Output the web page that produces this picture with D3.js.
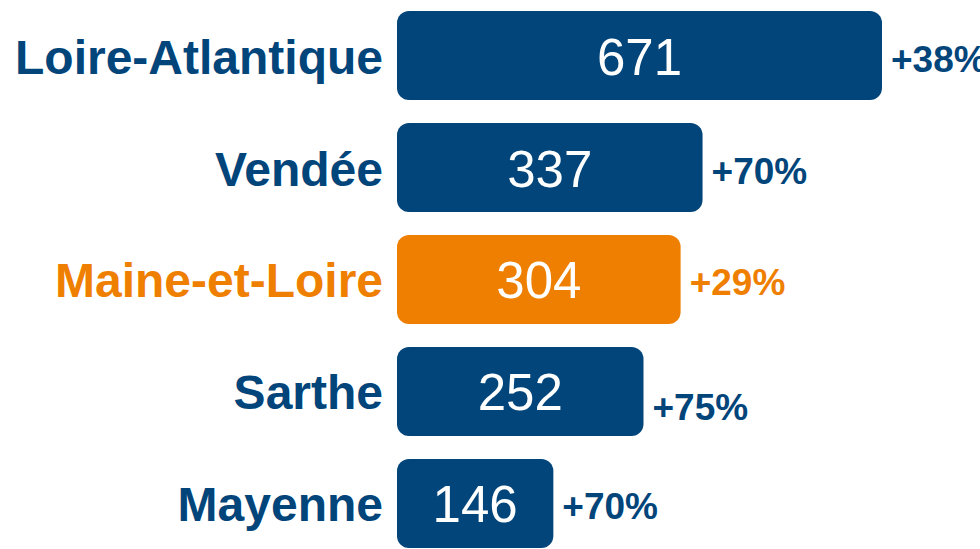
<!DOCTYPE html>
<html lang="fr">
<head>
  <meta charset="UTF-8">
  <title>departements</title>
  <script src="https://d3js.org/d3.v7.min.js" charset="utf-8"></script>
  <style>
    body { margin: 0; background: #fff; }
    text { font-family: "Liberation Sans", Arial, sans-serif; }
  </style>
</head>
<body>
<script>
  // data
  var departements = ['Loire-Atlantique', 'Vendée', 'Maine-et-Loire', 'Sarthe', 'Mayenne']
  var valeurs = [671, 337, 304, 252, 146]
  var evolutions = ['+38%', '+70%', '+29%', '+75%', '+70%']
  var highlight = 'Maine-et-Loire'

  var navy = '#02457a'
  var orange = '#ef7f00'
  var width = 980, height = 549
  var barLeft = 397

  var svg = d3.select('body').append('svg').attr('width', width).attr('height', height)

  var y = d3.scaleBand().domain(departements).range([11, 548]).paddingInner(0.205).paddingOuter(0)
  // the original bars are not proportional; a sqrt scale with offset follows them best
  var w = d3.scaleSqrt().domain([0, d3.max(valeurs)]).range([-131, 485])

  var rows = departements.map(function(d, i) {
    return { name: d, value: valeurs[i], evo: evolutions[i] }
  })
  function color(d) { return d.name === highlight ? orange : navy }

  // small hand nudges seen on the original
  var evoNudge = { 'Sarthe': 13 }

  var g = svg.selectAll('g.row').data(rows).enter().append('g').attr('class', 'row')
    .attr('transform', function(d) { return 'translate(0,' + y(d.name) + ')' })

  g.append('rect')
    .attr('x', barLeft)
    .attr('width', function(d) { return w(d.value) })
    .attr('height', y.bandwidth())
    .attr('rx', 12).attr('ry', 12)
    .attr('fill', color)

  g.append('text')
    .attr('x', barLeft - 14)
    .attr('y', y.bandwidth() / 2 + 18)
    .attr('text-anchor', 'end')
    .attr('font-size', 48)
    .attr('font-weight', 'bold')
    .attr('fill', color)
    .text(function(d) { return d.name })

  g.append('text')
    .attr('x', function(d) { return barLeft + w(d.value) / 2 })
    .attr('y', y.bandwidth() / 2 + 19)
    .attr('text-anchor', 'middle')
    .attr('font-size', 51)
    .attr('fill', '#fff')
    .text(function(d) { return d.value })

  g.append('text')
    .attr('x', function(d) { return barLeft + w(d.value) + 9 })
    .attr('y', function(d) { return y.bandwidth() / 2 + 16 + (evoNudge[d.name] || 0) })
    .attr('font-size', 37)
    .attr('font-weight', 'bold')
    .attr('fill', color)
    .text(function(d) { return d.evo })
</script>
</body>
</html>
